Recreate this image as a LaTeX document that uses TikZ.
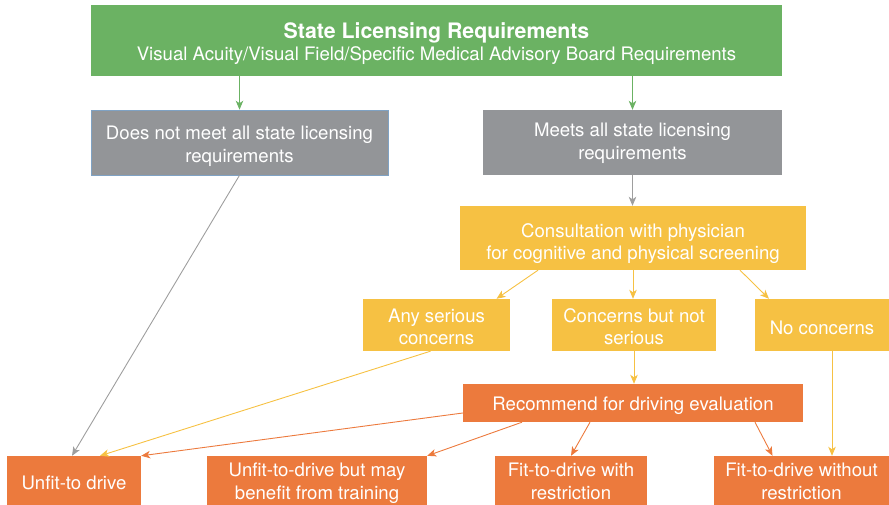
\documentclass[tikz,border=0pt]{standalone}
\usepackage{fontspec}
\setmainfont{TeX Gyre Heros}
\usepackage{tikz}
\usetikzlibrary{arrows.meta}
\definecolor{leaf}{HTML}{6BB263}
\definecolor{ash}{HTML}{939598}
\definecolor{ashline}{HTML}{9E9E9E}
\definecolor{frame}{HTML}{7FA2C4}
\definecolor{mustard}{HTML}{F6C143}
\definecolor{tangerine}{HTML}{EC7A3D}
% box text, stacked and nudged down a little
\newcommand{\boxtext}[2][4pt]{\raisebox{0pt}[\dimexpr\height+#1\relax][\dimexpr\depth-#1\relax]{%
  \begin{tabular}{@{}c@{}}#2\end{tabular}}}

\begin{document}
\begin{tikzpicture}[x=1pt,y=-1pt,>={Stealth[length=9pt,width=7.5pt,inset=2.5pt]},
  box/.style={text=white,inner sep=0pt,font=\fontsize{18.6}{22.8}\selectfont},
  flow/.style={->,line width=0.9pt}]
  \useasboundingbox (0,0) rectangle (889,505);
  % licensing check
  \node[box,fill=leaf,minimum width=691,minimum height=71] (state) at (436.5,40.5)
     {\boxtext[4.5pt]{{\bfseries\fontsize{21.3}{24}\selectfont State Licensing Requirements}\\
      Visual Acuity/Visual Field/Specific Medical Advisory Board Requirements}};
  \node[box,fill=ash,draw=frame,line width=0.6pt,minimum width=297,minimum height=65] (nomeet) at (239.5,142.5)
     {\boxtext{Does not meet all state licensing\\requirements}};
  \node[box,fill=ash,minimum width=299,minimum height=65] (meets) at (632.5,142.5)
     {\boxtext[1pt]{Meets all state licensing\\requirements}};
  % screening
  \node[box,fill=mustard,minimum width=346,minimum height=64] (consult) at (633,238)
     {\boxtext[6pt]{Consultation with physician\\for cognitive and physical screening}};
  \node[box,fill=mustard,minimum width=147,minimum height=52] (anyser) at (436.5,325)
     {\boxtext{Any serious\\concerns}};
  \node[box,fill=mustard,minimum width=164,minimum height=52] (notser) at (634,325)
     {\boxtext{Concerns but not\\serious}};
  \node[box,fill=mustard,minimum width=134,minimum height=52] (nocon) at (822,325)
     {\boxtext[5pt]{No concerns}};
  % outcomes
  \node[box,fill=tangerine,minimum width=340,minimum height=38] (recommend) at (633,403)
     {\boxtext[3pt]{Recommend for driving evaluation}};
  \node[box,fill=tangerine,minimum width=134,minimum height=49] (unfit) at (74,480.5)
     {\boxtext{Unfit-to drive}};
  \node[box,fill=tangerine,minimum width=220,minimum height=49] (unfitb) at (317,480.5)
     {\boxtext[3pt]{Unfit-to-drive but may\\benefit from training}};
  \node[box,fill=tangerine,minimum width=152,minimum height=49] (fitw) at (571,480.5)
     {\boxtext[3pt]{Fit-to-drive with\\restriction}};
  \node[box,fill=tangerine,minimum width=175,minimum height=49] (fitwo) at (801.5,480.5)
     {\boxtext[3pt]{Fit-to-drive without\\restriction}};

  \draw[flow,leaf] (state.south -| nomeet.north) -- (nomeet.north);
  \draw[flow,leaf] (state.south -| meets.north) -- (meets.north);
  \draw[flow,ashline] (meets.south) -- (meets.south |- consult.north);
  \draw[flow,ashline] (nomeet.south) -- ([xshift=-2pt]unfit.north);
  \draw[flow,mustard] ([xshift=-95pt]consult.south) -- ([xshift=60pt]anyser.north);
  \draw[flow,mustard] (consult.south) -- (consult.south |- notser.north);
  \draw[flow,mustard] ([xshift=107pt]consult.south) -- ([xshift=-53pt]nocon.north);
  \draw[flow,mustard] ([xshift=-6pt]anyser.south) -- ([xshift=26pt]unfit.north);
  \draw[flow,mustard] (notser.south) -- (notser.south |- recommend.north);
  \draw[flow,mustard] ([xshift=10pt]nocon.south) -- ([xshift=10pt]nocon.south |- fitwo.north);
  \draw[flow,tangerine] ([yshift=-10pt]recommend.west) -- (unfit.north east);
  \draw[flow,tangerine] ([xshift=-111pt]recommend.south) -- (unfitb.north east);
  \draw[flow,tangerine] ([xshift=-43pt]recommend.south) -- (fitw.north);
  \draw[flow,tangerine] ([xshift=122pt]recommend.south) -- ([xshift=-29pt]fitwo.north);
\end{tikzpicture}
\end{document}
